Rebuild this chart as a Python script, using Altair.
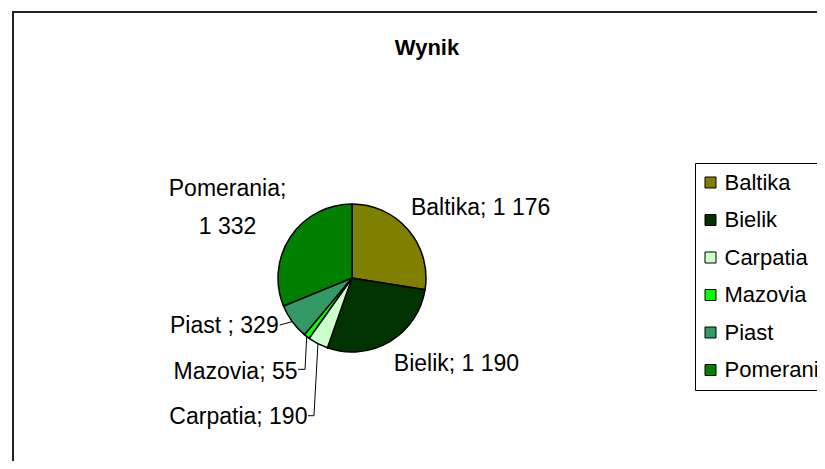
import math
import altair as alt
import pandas as pd

# ---- data ----
names = ["Baltika", "Bielik", "Carpatia", "Mazovia", "Piast", "Pomerania"]
values = [1176, 1190, 190, 55, 329, 1332]
colors = ["#808000", "#003300", "#CCFFCC", "#00FF00", "#339966", "#008000"]
label_fmt = ["{n}; {v}", "{n}; {v}", "{n}; {v}", "{n}; {v}", "{n} ; {v}", "{n};\n{v}"]

# ---- layout (chart coordinates, page minus 8px margin) ----
W, H = 809, 453
CX, CY, R = 344, 270, 74
FONT = "Liberation Sans"
FS = 23

# label anchor offsets from the slice mid-edge point, alignment
label_off = {
    "Baltika": (2.6, -15, "left"),
    "Bielik": (4, 29, "left"),
    "Carpatia": (-10.5, 80, "right"),
    "Mazovia": (-9.2, 42, "right"),
    "Piast": (-13.5, 11.4, "right"),
    "Pomerania": (-63, -40.7, "center"),
}
# leader-line points relative to label anchor (excluding edge point)
leader_pts = {
    "Carpatia": [(6.5, -8), (0.5, -8)],
    "Mazovia": [(7.5, -9.2), (0.5, -9.2)],
    "Piast": [(1, -8)],
}

def fmt(v):
    return f"{v:,}".replace(",", " ")

total = sum(values)
rows, lab_rows, lead_rows = [], [], []
cum = 0
for i, (n, v) in enumerate(zip(names, values)):
    rows.append({"name": n, "value": v, "idx": i})
    mid = (cum + v / 2) / total * 2 * math.pi
    cum += v
    ex, ey = CX + R * math.sin(mid), CY - R * math.cos(mid)
    dx, dy, al = label_off[n]
    ax, ay = ex + dx, ey + dy
    lab_rows.append({"name": n, "text": label_fmt[i].format(n=n, v=fmt(v)),
                     "x": ax, "y": ay, "align": al})
    if n in leader_pts:
        pts = [(ex, ey)] + [(ax + px, ay + py) for px, py in leader_pts[n]]
        for k, (px, py) in enumerate(pts):
            lead_rows.append({"name": n, "k": k, "x": px, "y": py})

df = pd.DataFrame(rows)
labs = pd.DataFrame(lab_rows)
leads = pd.DataFrame(lead_rows)

frame = alt.Chart(pd.DataFrame({"a": [0]})).mark_rect(
    fillOpacity=0, stroke="#222222", strokeWidth=2
).encode(x=alt.value(5), y=alt.value(4), x2=alt.value(W + 40), y2=alt.value(H + 40))

pie = alt.Chart(df).mark_arc(
    outerRadius=R, stroke="black", strokeWidth=1.5
).encode(
    theta=alt.Theta("value:Q", stack=True),
    order=alt.Order("idx:Q"),
    x=alt.value(CX),
    y=alt.value(CY),
    color=alt.Color(
        "name:N",
        scale=alt.Scale(domain=names, range=colors),
        legend=alt.Legend(
            title=None, orient="none", legendX=687, legendY=155,
            symbolType="square", symbolSize=121, symbolStrokeColor="black",
            symbolStrokeWidth=1, labelFontSize=22, labelFont=FONT,
            labelColor="black", rowPadding=15.5, padding=8.5,
            strokeColor="black", labelOffset=3, symbolOffset=-4,
            labelLimit=400, offset=0,
        ),
    ),
)

lead = alt.Chart(leads).mark_line(color="black", strokeWidth=1).encode(
    x=alt.X("x:Q", scale=None),
    y=alt.Y("y:Q", scale=None),
    detail="name:N",
    order="k:Q",
)

def lab_layer(al):
    return alt.Chart(labs[labs["align"] == al]).mark_text(
        align=al, baseline="alphabetic", font=FONT, fontSize=FS,
        color="black", lineBreak="\n", lineHeight=38,
    ).encode(
        x=alt.X("x:Q", scale=None), y=alt.Y("y:Q", scale=None), text="text:N"
    )

title = alt.Chart(pd.DataFrame({"t": ["Wynik"]})).mark_text(
    align="center", baseline="alphabetic", font=FONT, fontSize=22,
    fontWeight="bold", color="black",
).encode(x=alt.value(419), y=alt.value(47), text="t:N")

chart = alt.layer(
    frame, pie, lead, lab_layer("left"), lab_layer("right"), lab_layer("center"), title
).properties(
    width=W, height=H, padding=0, autosize=alt.AutoSizeParams(type="none"),
    background="white",
).configure_view(stroke=None)

chart.save("out.html", embed_options={"renderer": "svg", "actions": False})
